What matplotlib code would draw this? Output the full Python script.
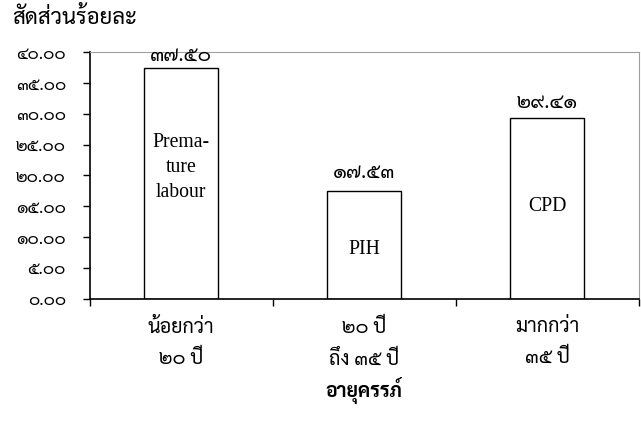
import matplotlib
matplotlib.use("Agg")
import matplotlib.pyplot as plt
from matplotlib.ticker import FuncFormatter, MultipleLocator, FixedLocator

# ---- data ----
categories = ["น้อยกว่า\n๒๐ ปี", "๒๐ ปี\nถึง ๓๕ ปี", "มากกว่า\n๓๕ ปี"]
values = [37.50, 17.53, 29.41]
bar_notes = ["Prema-\nture\nlabour", "PIH", "CPD"]
y_title = "สัดส่วนร้อยละ"
x_title = "อายุครรภ์"

THAI = str.maketrans("0123456789", "๐๑๒๓๔๕๖๗๘๙")
def thai(s):
    return s.translate(THAI)

thai_font = ["Sarabun", "DejaVu Sans"]
digit_font = ["Sarabun", "DejaVu Sans"]
latin_font = ["Liberation Serif", "DejaVu Serif"]

fig = plt.figure(figsize=(6.41, 4.23), dpi=100)
renderer = fig.canvas.get_renderer()

def fit_size(text, family, target_px, weight="normal"):
    t = fig.text(0, 0, text, fontsize=10, fontfamily=family, fontweight=weight)
    w = t.get_window_extent(renderer).width
    t.remove()
    return 10 * target_px / w

fs_tick = fit_size("๔๐.๐๐", digit_font, 50)
fs_val = fit_size("๓๗.๕๐", digit_font, 62)
fs_title = fit_size(y_title, thai_font, 125)
fs_cat = fit_size("น้อยกว่า", thai_font, 67)
fs_xt = fit_size(x_title, thai_font, 77, "bold")
fs_note = fit_size("Prema-", latin_font, 57)

ax = fig.add_axes([89.5/641, 1 - 298.5/423, (638.5-89.5)/641, (298.5-52.5)/423])

x = list(range(len(values)))
bars = ax.bar(x, values, width=0.4, color="white", edgecolor="black", linewidth=1.0, zorder=2)

ax.set_xlim(-0.5, len(values) - 0.5)
ax.set_ylim(0, 40)
ax.yaxis.set_major_locator(MultipleLocator(5))
ax.yaxis.set_major_formatter(FuncFormatter(lambda v, p: thai(f"{v:.2f}")))
ax.tick_params(axis="y", direction="out", length=5, width=1, color="black", pad=12,
               labelsize=fs_tick)
for t in ax.yaxis.get_major_ticks():
    t.label1.set_fontfamily(digit_font)

# x ticks at boundaries, labels at centers
ax.xaxis.set_major_locator(FixedLocator([i - 0.5 for i in range(len(values) + 1)]))
ax.xaxis.set_major_formatter(FuncFormatter(lambda v, p: ""))
ax.tick_params(axis="x", direction="out", length=5, width=1, color="black")
for i, c in enumerate(categories):
    ax.annotate(c, (i, 0), xytext=(0, -19), textcoords="offset pixels",
                ha="center", va="top", fontsize=fs_cat, fontfamily=thai_font,
                linespacing=1.8)

# spines
ax.spines["left"].set_color("black")
ax.spines["bottom"].set_color("black")
ax.spines["left"].set_linewidth(1.2)
ax.spines["bottom"].set_linewidth(1.2)
ax.spines["top"].set_color("#a0a0a0")
ax.spines["right"].set_color("#a0a0a0")

# value labels
label_gap_px = [7, 13, 10]
for b, v, g in zip(bars, values, label_gap_px):
    ax.annotate(thai(f"{v:.2f}"), (b.get_x() + b.get_width() / 2, v), xytext=(0, g),
                textcoords="offset pixels", ha="center", va="baseline", fontsize=fs_val,
                fontfamily=digit_font)

# notes inside bars
note_y = [21.3, 7.9, 14.9]
for i, (n, yy) in enumerate(zip(bar_notes, note_y)):
    ax.text(i, yy, n, ha="center", va="center", fontsize=fs_note, fontfamily=latin_font,
            linespacing=1.4)

fig.text(12/641, 1 - 18/423, y_title, ha="left", va="center", fontsize=fs_title,
         fontfamily=thai_font)
fig.text((89.5 + 638.5) / 2 / 641, 1 - 390/423, x_title, ha="center", va="center",
         fontsize=fs_xt, fontweight="bold", fontfamily=thai_font)

fig.savefig("out.png", dpi=100)
